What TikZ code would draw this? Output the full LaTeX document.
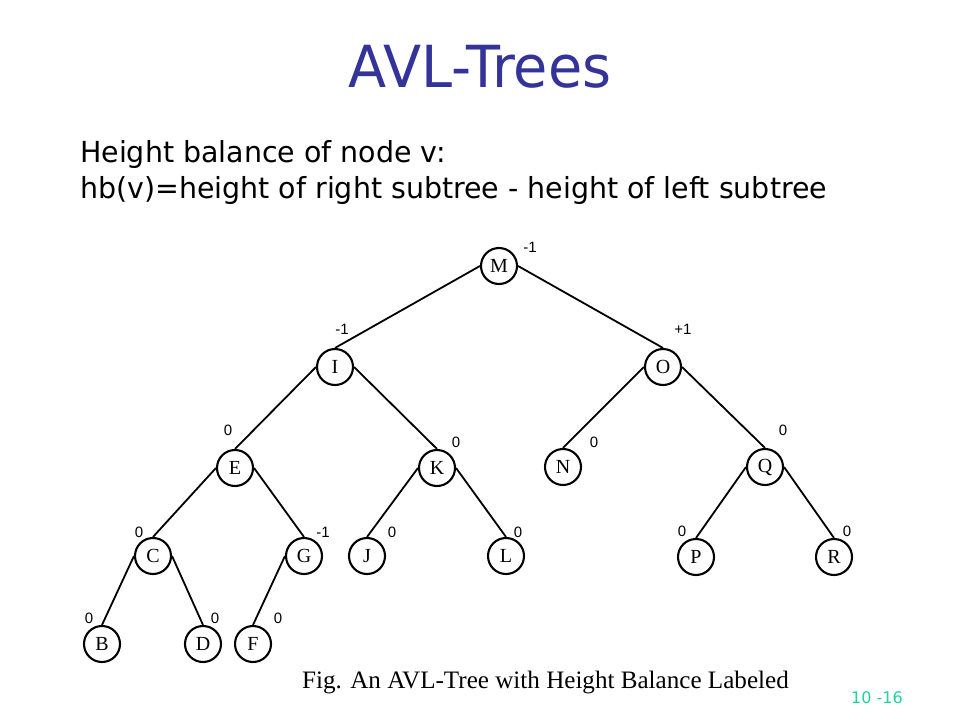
\documentclass[tikz,border=0pt]{standalone}
\usepackage{fontspec}
\setmainfont{Liberation Serif}
\newfontfamily\titlefont{DejaVu Sans}
\newfontfamily\labfont{Liberation Sans}
\definecolor{titleblue}{RGB}{51,51,153}
\definecolor{pagegreen}{RGB}{30,210,160}
\begin{document}
\begin{tikzpicture}[x=1pt,y=-1pt,
  tnode/.style={circle,draw,line width=2.1pt,minimum size=36pt,inner sep=0pt,font=\fontsize{20}{20}\selectfont},
  edge/.style={line width=1.8pt},
  bal/.style={font=\labfont\fontsize{15}{15}\selectfont,inner sep=0pt}]
\useasboundingbox (0,0) rectangle (960,720);
% title and text
\node[anchor=base,inner sep=0pt,text=titleblue] (title) at (480,87)
  {\scalebox{0.96}[1]{\titlefont\fontsize{58}{58}\selectfont AVL-Trees}};
\node[anchor=base west,inner sep=0pt] (line1) at (80,162)
  {\scalebox{0.981}[1]{\titlefont\fontsize{29}{29}\selectfont Height balance of node v:}};
\node[anchor=base west,inner sep=0pt] (line2) at (80,198)
  {\scalebox{0.981}[1]{\titlefont\fontsize{29}{29}\selectfont hb(v)=height of right subtree - height of left subtree}};
% tree nodes
\node[tnode] (M) at (499,266) {M};
\node[tnode] (I) at (335,367) {I};
\node[tnode] (O) at (663,367) {O};
\node[tnode] (E) at (235,468) {E};
\node[tnode] (K) at (437,468) {K};
\node[tnode] (N) at (563,467) {N};
\node[tnode] (Q) at (765,467) {Q};
\node[tnode] (C) at (153,556) {C};
\node[tnode] (G) at (304,556) {G};
\node[tnode] (J) at (367,556) {J};
\node[tnode] (L) at (506,556) {L};
\node[tnode] (P) at (696,557) {P};
\node[tnode] (R) at (834,557) {R};
\node[tnode] (B) at (102,644) {B};
\node[tnode] (D) at (203,644) {D};
\node[tnode] (F) at (253,644) {F};
% edges
\draw[edge] (M.west) -- (I.north);
\draw[edge] (M.east) -- (O.north);
\draw[edge] (I.west) -- (E.north);
\draw[edge] (I.east) -- (K.north);
\draw[edge] (O.west) -- (N.north);
\draw[edge] (O.east) -- (Q.north);
\draw[edge] (E.west) -- (C.north);
\draw[edge] (E.east) -- (G.north);
\draw[edge] (K.west) -- (J.north);
\draw[edge] (K.east) -- (L.north);
\draw[edge] (Q.west) -- (P.north);
\draw[edge] (Q.east) -- (R.north);
\draw[edge] (C.west) -- (B.north);
\draw[edge] (C.east) -- (D.north);
\draw[edge] (G.west) -- (F.north);
% balance labels
\node[bal] (bM) at (530,247) {-1};
\node[bal] (bI) at (342,329) {-1};
\node[bal] (bO) at (683,329) {+1};
\node[bal] (bE) at (228,430) {0};
\node[bal] (bK) at (456,442) {0};
\node[bal] (bN) at (594,442) {0};
\node[bal] (bQ) at (783,430) {0};
\node[bal] (bC) at (139,532) {0};
\node[bal] (bG) at (323,532) {-1};
\node[bal] (bJ) at (392,532) {0};
\node[bal] (bL) at (518,532) {0};
\node[bal] (bP) at (682,531) {0};
\node[bal] (bR) at (847,531) {0};
\node[bal] (bB) at (89,618) {0};
\node[bal] (bD) at (215,618) {0};
\node[bal] (bF) at (278,618) {0};
% caption and page number
\node[anchor=base west,inner sep=0pt] (cap) at (302,688)
  {\fontsize{25.1}{25.1}\selectfont Fig. An AVL-Tree with Height Balance Labeled};
\node[anchor=base west,inner sep=0pt,text=pagegreen] (pg) at (851,703)
  {\titlefont\fontsize{16}{16}\selectfont 10 -16};
\end{tikzpicture}
\end{document}
